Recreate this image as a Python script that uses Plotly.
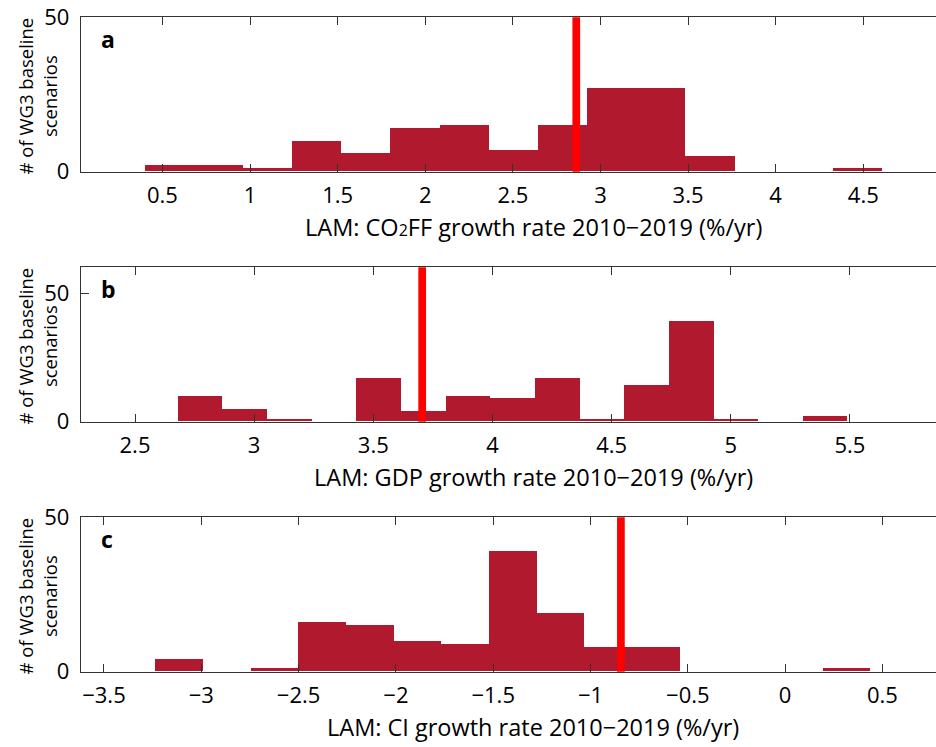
import plotly.graph_objects as go

# ---------------- data ----------------
co2_edges = [0.398, 0.679, 0.959, 1.240, 1.520, 1.801, 2.082, 2.362, 2.643,
             2.923, 3.204, 3.485, 3.765, 4.046, 4.326, 4.607]
co2_counts = [2, 2, 1, 10, 6, 14, 15, 7, 15, 27, 27, 5, 0, 0, 1]
co2_obs = 2.862

gdp_edges = [2.680, 2.867, 3.055, 3.242, 3.429, 3.617, 3.804, 3.991, 4.178,
             4.366, 4.553, 4.740, 4.928, 5.115, 5.302, 5.489]
gdp_counts = [10, 5, 1, 0, 17, 4, 10, 9, 17, 1, 14, 39, 1, 0, 2]
gdp_obs = 3.705

ci_edges = [-3.237, -2.992, -2.747, -2.502, -2.257, -2.012, -1.767, -1.522,
            -1.277, -1.032, -0.787, -0.542, -0.297, -0.052, 0.193, 0.438]
ci_counts = [4, 0, 1, 16, 15, 10, 9, 39, 19, 8, 8, 0, 0, 0, 1]
ci_obs = -0.844

co2_tickvals = [0.5, 1, 1.5, 2, 2.5, 3, 3.5, 4, 4.5]
co2_ticktext = ["0.5", "1", "1.5", "2", "2.5", "3", "3.5", "4", "4.5"]
gdp_tickvals = [2.5, 3, 3.5, 4, 4.5, 5, 5.5]
gdp_ticktext = ["2.5", "3", "3.5", "4", "4.5", "5", "5.5"]
ci_tickvals = [-3.5, -3, -2.5, -2, -1.5, -1, -0.5, 0, 0.5]
ci_ticktext = ["\u22123.5", "\u22123", "\u22122.5", "\u22122", "\u22121.5",
               "\u22121", "\u22120.5", "0", "0.5"]

y_tickvals = [0, 50]
y_ticktext = ["0", "50"]

x_titles = [
    "LAM: CO<span style='font-size:16px'>2</span>FF growth rate 2010\u22122019 (%/yr)",
    "LAM: GDP growth rate 2010\u22122019 (%/yr)",
    "LAM: CI growth rate 2010\u22122019 (%/yr)",
]
y_title = "# of WG3 baseline<br>scenarios"
panel_letters = ["a", "b", "c"]

# ---------------- layout geometry ----------------
W, H = 936, 747
FONT = "Open Sans"
BAR = "#B0192E"
AX = "#333333"

panels = [
    dict(edges=co2_edges, counts=co2_counts, obs=co2_obs, xr=[0.0354, 4.915],
         yr=[0, 50], tv=co2_tickvals, tt=co2_ticktext, top=17.3, bot=171.7),
    dict(edges=gdp_edges, counts=gdp_counts, obs=gdp_obs, xr=[2.2734, 5.861],
         yr=[0, 60], tv=gdp_tickvals, tt=gdp_ticktext, top=267.3, bot=421.7),
    dict(edges=ci_edges, counts=ci_counts, obs=ci_obs, xr=[-3.618, 0.775],
         yr=[0, 50], tv=ci_tickvals, tt=ci_ticktext, top=517.3, bot=671.7),
]

x_left = 81 / W

fig = go.Figure()
shapes = []
annotations = []
layout = dict(
    width=W, height=H,
    margin=dict(l=0, r=0, t=0, b=0, autoexpand=False),
    paper_bgcolor="white", plot_bgcolor="white",
    showlegend=False, bargap=0,
    font=dict(family=FONT, color="black"),
)

for i, p in enumerate(panels):
    n = "" if i == 0 else str(i + 1)
    xa, ya = "x" + n, "y" + n
    e = p["edges"]
    centers = [(e[k] + e[k + 1]) / 2 for k in range(len(e) - 1)]
    widths = [e[k + 1] - e[k] for k in range(len(e) - 1)]
    fig.add_trace(go.Bar(
        x=centers, y=p["counts"], width=widths,
        marker=dict(color=BAR, line=dict(width=0)),
        xaxis=xa, yaxis=ya, hoverinfo="skip",
    ))
    y0 = (H - p["bot"]) / H
    y1 = (H - p["top"]) / H
    layout["xaxis" + n] = dict(
        domain=[x_left, 1], range=p["xr"], anchor=ya, automargin=False,
        tickmode="array", tickvals=p["tv"], ticktext=p["tt"],
        ticks="inside", ticklen=8, tickwidth=1, tickcolor=AX,
        showline=True, linecolor=AX, linewidth=1.3, mirror="ticks",
        showgrid=False, zeroline=False,
        tickfont=dict(family=FONT, size=22, color="black"),
        ticklabelstandoff=4,
    )
    layout["yaxis" + n] = dict(
        domain=[y0, y1], range=p["yr"], anchor=xa, automargin=False,
        tickmode="array", tickvals=y_tickvals, ticktext=y_ticktext,
        ticks="inside", ticklen=8, tickwidth=1, tickcolor=AX,
        showline=True, linecolor=AX, linewidth=1.3, mirror=False,
        showgrid=False, zeroline=False,
        tickfont=dict(family=FONT, size=22, color="black"),
        ticklabelstandoff=6,
    )
    # observed value (red vertical line)
    shapes.append(dict(
        type="line", xref=xa, yref=ya + " domain",
        x0=p["obs"], x1=p["obs"], y0=0, y1=1,
        line=dict(color="#FF0000", width=7.7), layer="above",
    ))
    # x title
    annotations.append(dict(
        text=x_titles[i], xref="paper", yref="paper",
        x=533 / W, y=(H - (p["bot"] + 55)) / H,
        xanchor="center", yanchor="middle", showarrow=False,
        font=dict(family=FONT, size=23.5, color="black"),
    ))
    # y title
    annotations.append(dict(
        text=y_title, xref="paper", yref="paper",
        x=37 / W, y=(H - (p["top"] + p["bot"]) / 2 - 2) / H,
        xanchor="center", yanchor="middle", showarrow=False, textangle=-90,
        font=dict(family=FONT, size=18.5, color="black"),
    ))
    # panel letter
    annotations.append(dict(
        text="<b>" + panel_letters[i] + "</b>", xref="paper", yref="paper",
        x=99 / W, y=(H - (p["top"] + 4)) / H,
        xanchor="left", yanchor="top", showarrow=False,
        font=dict(family=FONT, size=23, color="black"),
    ))

layout["shapes"] = shapes
layout["annotations"] = annotations
fig.update_layout(**layout)
fig.write_html("out.html")
